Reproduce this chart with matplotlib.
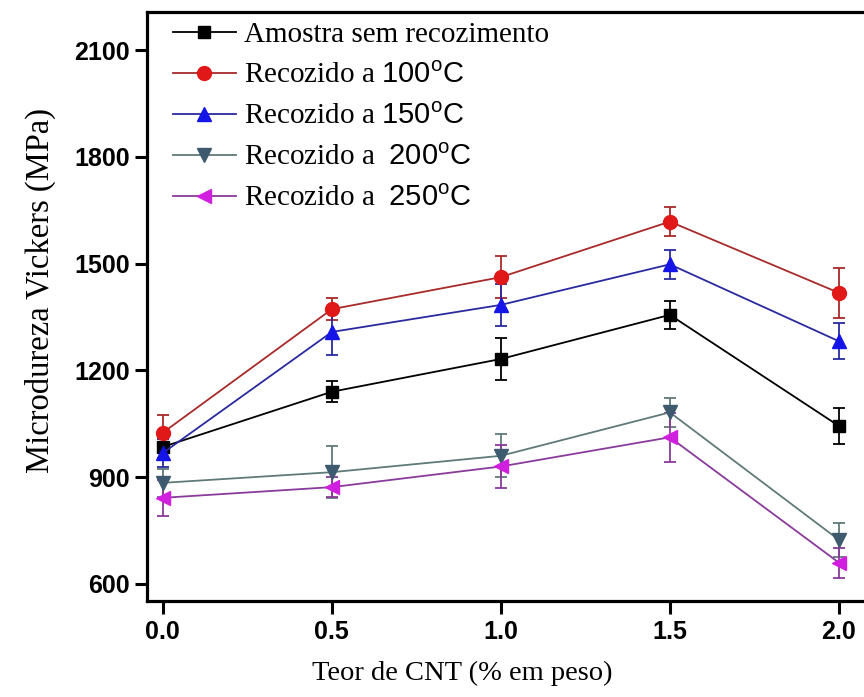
import matplotlib
matplotlib.use("Agg")
import matplotlib.pyplot as plt

plt.rcParams['mathtext.fontset'] = 'custom'
plt.rcParams['mathtext.rm'] = 'Liberation Serif'
plt.rcParams['mathtext.sf'] = 'Liberation Sans'

cnt = [0.0, 0.5, 1.0, 1.5, 2.0]

sem_rec = [985, 1140, 1232, 1356, 1044]
sem_rec_err = [30, 30, 60, 40, 50]
rec_100 = [1025, 1372, 1462, 1618, 1418]
rec_100_err = [50, 30, 60, 40, 70]
rec_150 = [968, 1308, 1384, 1498, 1282]
rec_150_err = [40, 65, 60, 40, 50]
rec_200 = [884, 914, 960, 1082, 724]
rec_200_err = [40, 73, 60, 40, 48]
rec_250 = [842, 872, 930, 1012, 660]
rec_250_err = [50, 28, 60, 68, 42]

labels = ['Amostra sem recozimento',
          r'Recozido a $\mathsf{100^{o}C}$',
          r'Recozido a $\mathsf{150^{o}C}$',
          r'Recozido a  $\mathsf{200^{o}C}$',
          r'Recozido a  $\mathsf{250^{o}C}$']

series = [
    (sem_rec, sem_rec_err, 's', '#000000', '#000000', 8),
    (rec_100, rec_100_err, 'o', '#e01818', '#a82a2a', 10),
    (rec_150, rec_150_err, '^', '#1515e8', '#2a2aa0', 10),
    (rec_200, rec_200_err, 'v', '#3d5a6e', '#5f7a78', 10),
    (rec_250, rec_250_err, '<', '#d11fe0', '#8a3a9a', 10),
]

fig = plt.figure(figsize=(8.64, 6.97), dpi=100)
ax = fig.add_axes([0.170, 0.1377, 0.840, 0.8451])

handles = []
for (vals, err, mk, mcol, lcol, ms), lab in zip(series, labels):
    cont = ax.errorbar(cnt, vals, yerr=err, color=lcol, lw=1.3, ecolor=lcol,
                       elinewidth=1.3, capsize=4, capthick=1.3,
                       marker=mk, ms=ms, mfc=mcol, mec=mcol, label=lab)
    handles.append(cont[0])

ax.set_xlim(-0.0473, 2.1)
ax.set_ylim(552, 2207)
ax.set_xticks(cnt)
ax.set_xticklabels(['0.0', '0.5', '1.0', '1.5', '2.0'])
ax.set_yticks([600, 900, 1200, 1500, 1800, 2100])

for s in ax.spines.values():
    s.set_linewidth(2.3)
ax.tick_params(direction='out', length=9, width=2.2)
ax.tick_params(axis='x', pad=5)
ax.tick_params(axis='y', pad=3)
for t in ax.get_xticklabels() + ax.get_yticklabels():
    t.set_fontfamily('Liberation Sans')
    t.set_fontweight('bold')
    t.set_fontsize(18)

ax.set_xlabel('Teor de CNT (% em peso)', fontfamily='Liberation Serif',
              fontsize=20.5)
ax.xaxis.set_label_coords(0.434, -0.101)
ax.set_ylabel('Microdureza Vickers (MPa)', fontfamily='Liberation Serif',
              fontsize=23.5)
ax.yaxis.set_label_coords(-0.125, 0.528)

ax.legend(handles=handles, labels=labels, loc='upper left',
          bbox_to_anchor=(0.036, 0.983), frameon=False,
          handlelength=2.15, handletextpad=0.3, labelspacing=0.5,
          borderaxespad=0, borderpad=0,
          prop={'family': 'Liberation Serif', 'size': 21})

fig.savefig('out.png', dpi=100)
